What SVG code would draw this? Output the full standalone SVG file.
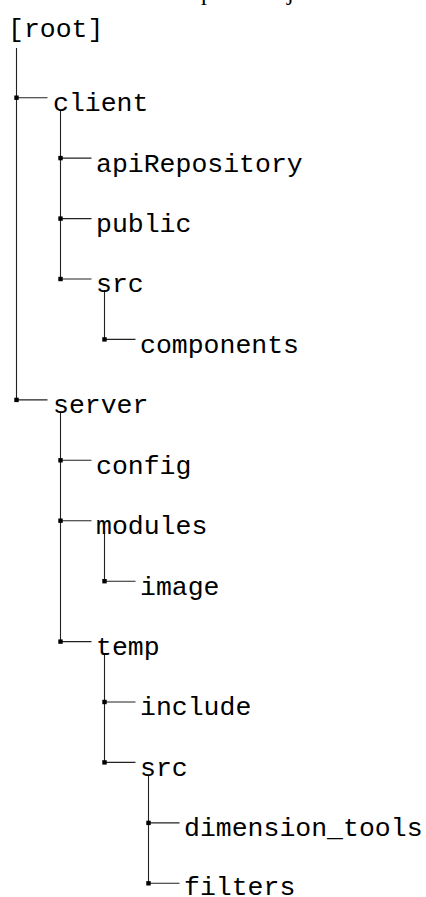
<svg xmlns="http://www.w3.org/2000/svg" width="426" height="897" viewBox="0 0 426 897">
<style>
.t{font-family:"Liberation Mono","DejaVu Sans Mono",monospace;font-size:26.5px;fill:#000}
.c{font-family:"Liberation Serif","DejaVu Serif",serif;font-size:24px;fill:#000}
.ln{stroke:#222;stroke-width:1.1;fill:none}
.sq{fill:#000}
</style>
<defs>
<rect id="sq" x="-2.2" y="-2.2" width="4.4" height="4.4" class="sq"/>
</defs>
<g id="caption-fragment">
<text class="c" x="201" y="0">p</text>
<text class="c" x="287" y="0">j</text>
</g>
<g id="connectors">
<path class="ln" d="M16.5 48V400.3M60.5 110V279.3M104.5 290V339.3M60.5 413V641.7M104.5 533V581M104.5 655V762.3M148.5 776V883.3"/>
<path class="ln" d="M16.5 97.7H47.5M60.5 158.1H91.5M60.5 218.6H91.5M60.5 279H91.5M104.5 339.4H135.5M16.5 399.9H47.5M60.5 460.3H91.5M60.5 520.7H91.5M104.5 581.2H135.5M60.5 641.6H91.5M104.5 702H135.5M104.5 762.4H135.5M148.5 822.9H179.5M148.5 883.3H179.5"/>
<use href="#sq" x="16.5" y="97.7"/>
<use href="#sq" x="60.5" y="158.1"/>
<use href="#sq" x="60.5" y="218.6"/>
<use href="#sq" x="60.5" y="279"/>
<use href="#sq" x="104.5" y="339.4"/>
<use href="#sq" x="16.5" y="399.9"/>
<use href="#sq" x="60.5" y="460.3"/>
<use href="#sq" x="60.5" y="520.7"/>
<use href="#sq" x="104.5" y="581.2"/>
<use href="#sq" x="60.5" y="641.6"/>
<use href="#sq" x="104.5" y="702"/>
<use href="#sq" x="104.5" y="762.4"/>
<use href="#sq" x="148.5" y="822.9"/>
<use href="#sq" x="148.5" y="883.3"/>
</g>
<g id="root"><text class="t" x="8" y="37">[root]</text></g>
<g id="client"><text class="t" x="53" y="111">client</text></g>
<g id="apiRepository"><text class="t" x="96" y="171.5">apiRepository</text></g>
<g id="public"><text class="t" x="96" y="232">public</text></g>
<g id="client-src"><text class="t" x="96" y="292.4">src</text></g>
<g id="components"><text class="t" x="140" y="352.8">components</text></g>
<g id="server"><text class="t" x="53" y="413.3">server</text></g>
<g id="config"><text class="t" x="96" y="473.7">config</text></g>
<g id="modules"><text class="t" x="96" y="534.1">modules</text></g>
<g id="image"><text class="t" x="140" y="594.6">image</text></g>
<g id="temp"><text class="t" x="96" y="655">temp</text></g>
<g id="include"><text class="t" x="140" y="715.4">include</text></g>
<g id="temp-src"><text class="t" x="140" y="775.8">src</text></g>
<g id="dimension_tools"><text class="t" x="184" y="836.3">dimension_tools</text></g>
<g id="filters"><text class="t" x="184" y="894.5">filters</text></g>
</svg>
